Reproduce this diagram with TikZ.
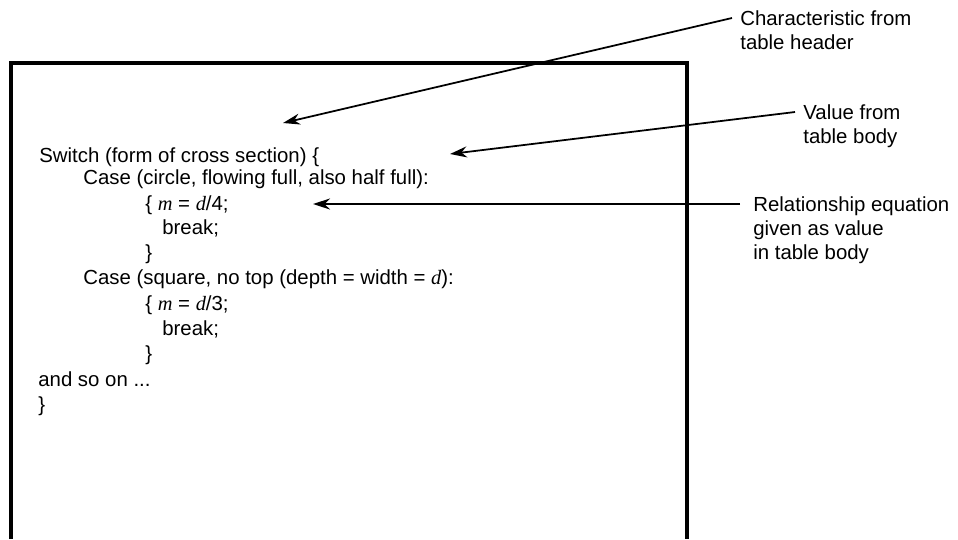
\documentclass[tikz,border=0pt]{standalone}
\usepackage{fontspec}
\setmainfont{Liberation Sans}
\newfontfamily\varserif{Liberation Serif}
\usetikzlibrary{arrows.meta,calc}
\newcommand{\var}[1]{{\varserif\itshape #1}}

\tikzset{
  code/.style={anchor=base west, inner sep=0pt, font=\fontsize{11.6}{13.7}\selectfont},
  lbl/.style={anchor=north west, inner sep=0pt, align=left, font=\fontsize{11.6}{13.7}\selectfont},
  arr/.style={-{Stealth[length=3.4mm,width=2.2mm]}, line width=1pt},
}

\begin{document}
\begin{tikzpicture}[x=0.02cm,y=-0.02cm]
\useasboundingbox (0,0) rectangle (958,539);

\draw[line width=2pt] (11,539) -- (11,63) -- (687,63) -- (687,539); %box, open at bottom

% code lines
\node[code] (sw)   at (39,162)  {Switch (form of cross section) \{};
\node[code] (c1)   at (83,184)  {Case (circle, flowing full, also half full):};
\node[code] (c1m)  at (145,210) {\{ \var{m} = \var{d}/4;};
\node[code] (c1b)  at (162,234) {break;};
\node[code] (c1e)  at (145,259) {\}};
\node[code] (c2)   at (83,284)  {Case (square, no top (depth = width = \var{d}):};
\node[code] (c2m)  at (145,310) {\{ \var{m} = \var{d}/3;};
\node[code] (c2b)  at (162,335) {break;};
\node[code] (c2e)  at (145,360) {\}};
\node[code] (more) at (38,386)  {and so on ...};
\node[code] (end)  at (38,411)  {\}};

% labels
\node[lbl] (charlbl) at (740,10)  {Characteristic from\\table header};
\node[lbl] (vallbl)  at (803,104) {Value from\\table body};
\node[lbl] (rellbl)  at (753,196) {Relationship equation\\given as value\\in table body};

% arrow tips
\coordinate (chartip) at (283,123);
\coordinate (valtip)  at (450,154);
\coordinate (reltip)  at (313,204);

\draw[arr] ($(charlbl.north west)+(-8,8)$) -- (chartip);
\draw[arr] ($(vallbl.north west)+(-8,8)$) -- (valtip);
\draw[arr, line width=0.8pt] ($(rellbl.north west)+(-13,8)$) -- (reltip);
\end{tikzpicture}
\end{document}
